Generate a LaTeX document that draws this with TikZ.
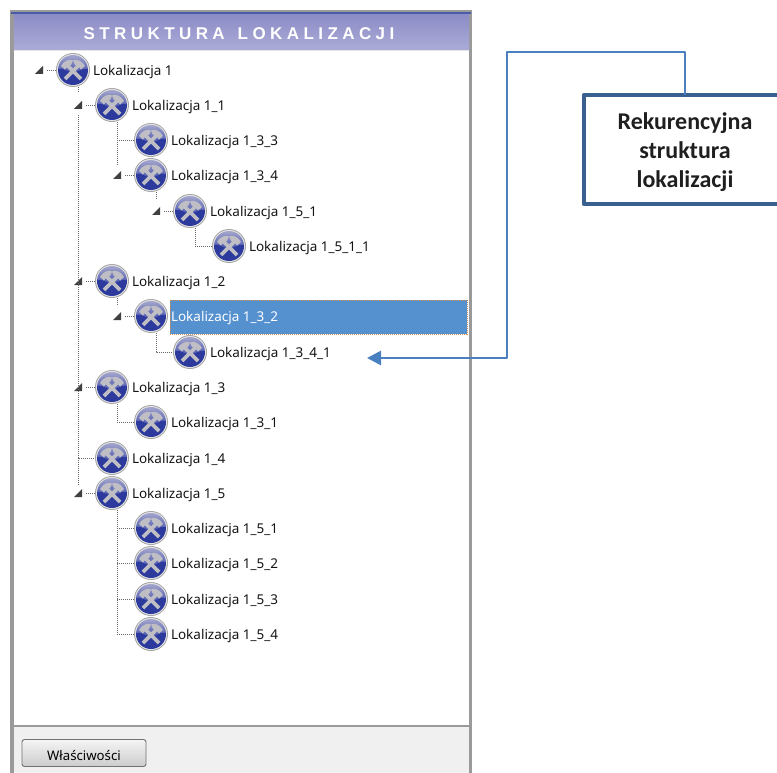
\documentclass[tikz,border=0pt]{standalone}
\usepackage{fontspec}
\setmainfont{Noto Sans}
\newfontfamily\calloutfont{Carlito}
\newfontfamily\titlefont[LetterSpace=26]{Liberation Sans}
\usetikzlibrary{arrows.meta}
\definecolor{panelgray}{HTML}{9A9A9A}
\definecolor{topblue}{HTML}{4A5CA8}
\definecolor{bartop}{HTML}{8C8CC6}
\definecolor{barbot}{HTML}{ABABD8}
\definecolor{footgray}{HTML}{F0F0F0}
\definecolor{selblue}{HTML}{5590CF}
\definecolor{selorange}{HTML}{D08A50}
\definecolor{lineblue}{HTML}{4A80C0}
\definecolor{boxblue}{HTML}{3A6090}
\definecolor{navy}{HTML}{2B3A9C}
\definecolor{icontop}{HTML}{A4A6CC}
\definecolor{iconmid}{HTML}{4E5AB0}
\definecolor{hammer}{HTML}{BEBEC4}
\tikzset{
  x=1pt,y=-1pt,
  iconnode/.style={circle,minimum size=34pt,inner sep=0pt,outer sep=0pt},
  itemlabel/.style={anchor=west,inner sep=0pt,outer sep=0pt,font=\fontsize{13.5}{15}\selectfont,text=black!92},
  treeline/.style={draw=black!60,line width=0.8pt,dash pattern=on 1pt off 1pt},
  expander/.style={fill=black!75,draw=none},
  hammericon/.pic={
    \fill[black!35] (0,0) circle (17);
    \fill[black!10] (0,0) circle (16);
    \begin{scope}
      \clip (0,0) circle (15);
      \shade[top color=icontop,bottom color=iconmid] (-15,-15) rectangle (15,2);
      \fill[navy] (-15,-1) .. controls (-10,-3) and (-5,3) .. (0,2) .. controls (5,3) and (10,-3) .. (15,-1) -- (15,15) -- (-15,15) -- cycle;
    \end{scope}
    \draw[hammer,line width=3.6pt] (-8,9) -- (6,-5);
    \draw[hammer,line width=3.6pt] (8,9) -- (-6,-5);
    \fill[hammer] (0,-9.5) .. controls (4,-11) and (8,-10) .. (12,-4) -- (8,-0.5) .. controls (7,-3) and (4,-5) .. (2,-5) -- cycle;
    \fill[hammer] (0,-9.5) .. controls (-4,-11) and (-8,-10) .. (-12,-4) -- (-8,-0.5) .. controls (-7,-3) and (-4,-5) .. (-2,-5) -- cycle;
  },
  panelbutton/.style={draw=black!55,line width=0.9pt,rounded corners=2.5pt,top color=black!4,bottom color=black!20,
    minimum width=124pt,minimum height=27pt,inner sep=0pt,font=\fontsize{13.2}{15}\selectfont},
  calloutbox/.style={minimum width=202pt,minimum height=109pt,inner sep=0pt,align=center,
    font=\calloutfont\bfseries\fontsize{24}{29}\selectfont,text=black!88},
  link/.style={draw=lineblue,line width=2.8pt,line join=round},
}
% name, icon x, y, text
\newcommand{\treeitem}[4]{%
  \node[iconnode] (#1) at (#2,#3) {};
  \pic at (#1) {hammericon};
  \node[itemlabel] (#1t) at (#2+20,#3+1.5) {#4};
}
% expander triangle left of a node
\newcommand{\expandit}[1]{%
  \path[expander] ([shift={(-38,4)}]#1.center) -- ++(8,0) -- ++(0,-8) -- cycle;
  \draw[treeline] ([shift={(-26,0)}]#1.center) -- (#1.west);
}
\begin{document}
\begin{tikzpicture}
\useasboundingbox (0,0) rectangle (777,773);
\fill[white] (0,0) rectangle (777,773);
% panel
\fill[panelgray] (10,10) rectangle (472,773);
\fill[footgray] (14,14) rectangle (469,773);
\fill[white] (14,50) rectangle (469,726);
\draw[panelgray,line width=1.2pt] (14,726) -- (469,726);
\shade[top color=bartop,bottom color=barbot] (14,14) rectangle (469,50);
\fill[topblue] (11,12.5) rectangle (471,14.5);
\draw[white!90!black,line width=0.8pt] (14,50.5) -- (469,50.5);
\node[font=\titlefont\bfseries\fontsize{17}{19}\selectfont,text=white,inner sep=0pt] (title) at (239,34) {STRUKTURA\hspace{13pt}LOKALIZACJI};
% selection
\node[draw=selorange,fill=selblue,line width=0.6pt,dash pattern=on 1pt off 1pt,anchor=north west,minimum width=297pt,minimum height=34pt,inner sep=0pt] (selection) at (170,300) {};
% tree
\treeitem{r}{73}{70}{Lokalizacja 1}
\treeitem{a}{112}{105}{Lokalizacja 1\_1}
\treeitem{aa}{151}{140}{Lokalizacja 1\_3\_3}
\treeitem{ab}{151}{175}{Lokalizacja 1\_3\_4}
\treeitem{aba}{190}{211}{Lokalizacja 1\_5\_1}
\treeitem{abaa}{229}{246}{Lokalizacja 1\_5\_1\_1}
\treeitem{b}{112}{281}{Lokalizacja 1\_2}
\treeitem{ba}{151}{316}{\textcolor{white}{Lokalizacja 1\_3\_2}}
\treeitem{baa}{190}{352}{Lokalizacja 1\_3\_4\_1}
\treeitem{c}{112}{387}{Lokalizacja 1\_3}
\treeitem{ca}{151}{422}{Lokalizacja 1\_3\_1}
\treeitem{d}{112}{458}{Lokalizacja 1\_4}
\treeitem{e}{112}{493}{Lokalizacja 1\_5}
\treeitem{ea}{151}{528}{Lokalizacja 1\_5\_1}
\treeitem{eb}{151}{563}{Lokalizacja 1\_5\_2}
\treeitem{ec}{151}{599}{Lokalizacja 1\_5\_3}
\treeitem{ed}{151}{634}{Lokalizacja 1\_5\_4}
% expanders
\expandit{r}\expandit{a}\expandit{ab}\expandit{aba}\expandit{b}\expandit{ba}\expandit{c}\expandit{e}
% trunks and elbows
\draw[treeline] ([xshift=5]r.south) -- ++(0,5);
\draw[treeline] ([xshift=5]r.south) ++(0,28) |- (d.west);
\draw[treeline] ([xshift=-34]d.center) -- ++(0,27);
\draw[treeline] ([xshift=5]a.south) |- (aa.west);
\draw[treeline] ([xshift=-34]aa.center) -- ++(0,25);
\draw[treeline] ([xshift=5]ab.south) -- ++(0,7);
\draw[treeline] ([xshift=5]aba.south) |- (abaa.west);
\draw[treeline] ([xshift=5]b.south) -- ++(0,7);
\draw[treeline] ([xshift=5]ba.south) |- (baa.west);
\draw[treeline] ([xshift=5]c.south) |- (ca.west);
\draw[treeline] ([xshift=5]e.south) |- (ed.west);
\draw[treeline] ([xshift=-17]ea.west) -- (ea.west);
\draw[treeline] ([xshift=-17]eb.west) -- (eb.west);
\draw[treeline] ([xshift=-17]ec.west) -- (ec.west);
% button
\node[panelbutton] (prop) at (84,753) {\rule{0pt}{15pt}Właściwości};
% callout
\node[calloutbox] (callout) at (685,149.5) {\rule{0pt}{23pt}Rekurencyjna\\struktura\\lokalizacji};
\draw[boxblue,line width=4.5pt,line join=round] (780,95) -- (584,95) -- (584,204) -- (780,204);
\coordinate (bend) at (507,52);
\coordinate (arrowend) at (367,358);
\draw[link,-{Triangle[length=14pt,width=14pt]}] (callout.north) |- (bend) |- (arrowend);
\end{tikzpicture}
\end{document}
